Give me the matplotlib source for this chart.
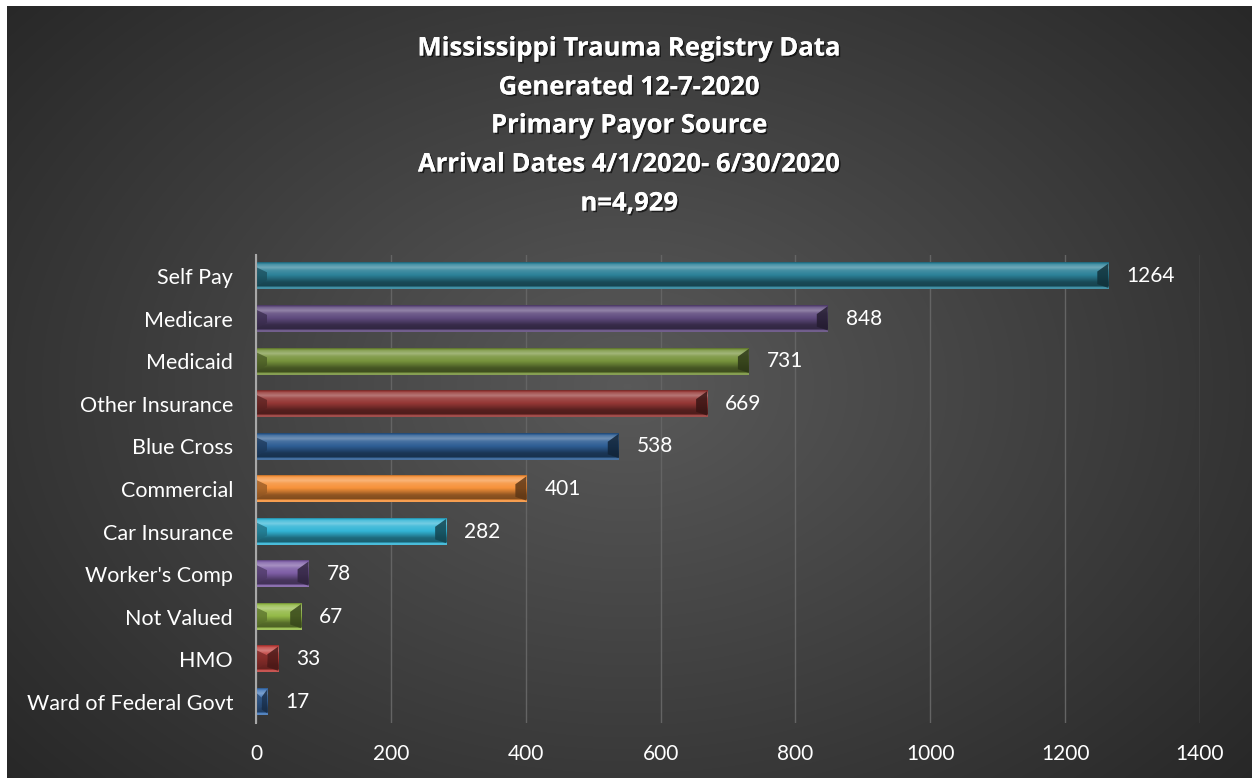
import numpy as np
import matplotlib
matplotlib.use("Agg")
import matplotlib.pyplot as plt
from matplotlib.colors import to_rgb
from matplotlib.patches import Polygon
import matplotlib.patheffects as pe

# ---------------- data ----------------
categories = ["Self Pay", "Medicare", "Medicaid", "Other Insurance", "Blue Cross",
              "Commercial", "Car Insurance", "Worker's Comp", "Not Valued", "HMO",
              "Ward of Federal Govt"]
values = [1264, 848, 731, 669, 538, 401, 282, 78, 67, 33, 17]
bar_colors = ["#2C8198", "#5F4A7E", "#77933C", "#953735", "#2E5E94",
              "#F7923A", "#33B5D6", "#7E5EA6", "#94BA48", "#C0403C", "#3F75B8"]
x_ticks = [0, 200, 400, 600, 800, 1000, 1200, 1400]
title_lines = ["Mississippi Trauma Registry Data",
               "Generated 12-7-2020",
               "Primary Payor Source",
               "Arrival Dates 4/1/2020- 6/30/2020",
               "n=4,929"]

W, H = 1252, 778
fig = plt.figure(figsize=(W / 100, H / 100), dpi=100)
fig.patch.set_facecolor("white")

# ---------------- background gradient ----------------
bg = fig.add_axes([7 / W, 0, 1 - 7 / W, 1 - 6 / H])
bg.set_axis_off()
bh_, bw_ = H - 6, W - 7
yy, xx = np.mgrid[0:bh_, 0:bw_]
cx, cy = 620, 380
d = np.sqrt(((xx - cx) / 720.0) ** 2 + ((yy - cy) / 520.0) ** 2)
val = np.clip(0.35 - 0.17 * d, 0.14, 0.36)
img = np.dstack([val, val, val])
bg.imshow(img, extent=(0, 1, 0, 1), aspect="auto", origin="upper", zorder=0)
bg.set_xlim(0, 1)
bg.set_ylim(0, 1)

# ---------------- main axes ----------------
ax = fig.add_axes([256 / W, 1 - 723 / H, (1200 - 256) / W, (723 - 255) / H])
ax.set_facecolor("none")
ypos = np.arange(len(categories))
h = 0.62

ax.barh(ypos, values, height=h, color=bar_colors, zorder=2)


def mix(c, f):
    c = np.array(to_rgb(c))
    if f >= 0:
        return c + (1 - c) * f
    return c * (1 + f)


profile = [(0.00, -0.25), (0.07, 0.12), (0.20, 0.32), (0.30, 0.12), (0.48, 0.0),
           (0.60, -0.18), (0.74, -0.42), (0.90, -0.48), (0.93, 0.12), (1.00, 0.12)]
ps = np.array([p for p, _ in profile])
fs = np.array([f for _, f in profile])
rows = np.linspace(0, 1, 80)
frow = np.interp(rows, ps, fs)

px_per_unit = 944 / 1400.0
bevel_w = 11 / px_per_unit
for y, v, c in zip(ypos, values, bar_colors):
    grad = np.array([mix(c, f) for f in frow]).reshape(-1, 1, 3)
    ax.imshow(grad, extent=(0, v, y + h / 2, y - h / 2), origin="upper",
              aspect="auto", interpolation="bilinear", zorder=3)
    bw = min(bevel_w, v / 2.0)
    top, bot = y - h / 2, y + h / 2
    left = Polygon([(0, top + 0.15 * h), (bw, top + 0.35 * h), (bw, bot - 0.35 * h), (0, bot - 0.12 * h)],
                   closed=True, facecolor=mix(c, -0.4), alpha=0.75, lw=0, zorder=4)
    right = Polygon([(v, top + 0.02 * h), (v - bw, top + 0.32 * h), (v - bw, bot - 0.2 * h), (v, bot - 0.06 * h)],
                    closed=True, facecolor=mix(c, -0.62), alpha=0.85, lw=0, zorder=4)
    ax.add_patch(left)
    ax.add_patch(right)
    ax.annotate(str(v), (v, y), xytext=(13, 0), textcoords="offset points",
                ha="left", va="center", color="white", fontsize=15, family="Lato")

ax.set_xlim(0, 1400)
ax.set_ylim(len(categories) - 0.5, -0.5)
ax.set_xticks(x_ticks)
ax.set_xticklabels([str(t) for t in x_ticks])
ax.set_yticks(ypos)
ax.set_yticklabels(categories)
ax.tick_params(axis="x", length=0, pad=15, labelsize=15, labelcolor="white")
ax.tick_params(axis="y", length=0, pad=16.5, labelsize=15.5, labelcolor="white")
for lab in ax.get_xticklabels() + ax.get_yticklabels():
    lab.set_family("Lato")
ax.grid(axis="x", color="#646464", lw=1, zorder=1)
ax.grid(axis="y", visible=False)
ax.set_axisbelow(True)
for s in ["top", "right", "bottom"]:
    ax.spines[s].set_visible(False)
ax.spines["left"].set_color("#a8a8a8")
ax.spines["left"].set_linewidth(1.5)
ax.spines["left"].set_zorder(5)

# ---------------- title ----------------
title_y = [48, 87, 125, 164, 203]
for line, ty in zip(title_lines, title_y):
    fig.text(629.5 / W, 1 - ty / H, line, ha="center", va="center", fontsize=18.5,
             fontweight="bold", family="Open Sans", color="white",
             path_effects=[pe.withSimplePatchShadow(offset=(1.2, -1.2), shadow_rgbFace="black", alpha=0.6),
                           pe.Normal()])

fig.savefig("out.png", dpi=100)
